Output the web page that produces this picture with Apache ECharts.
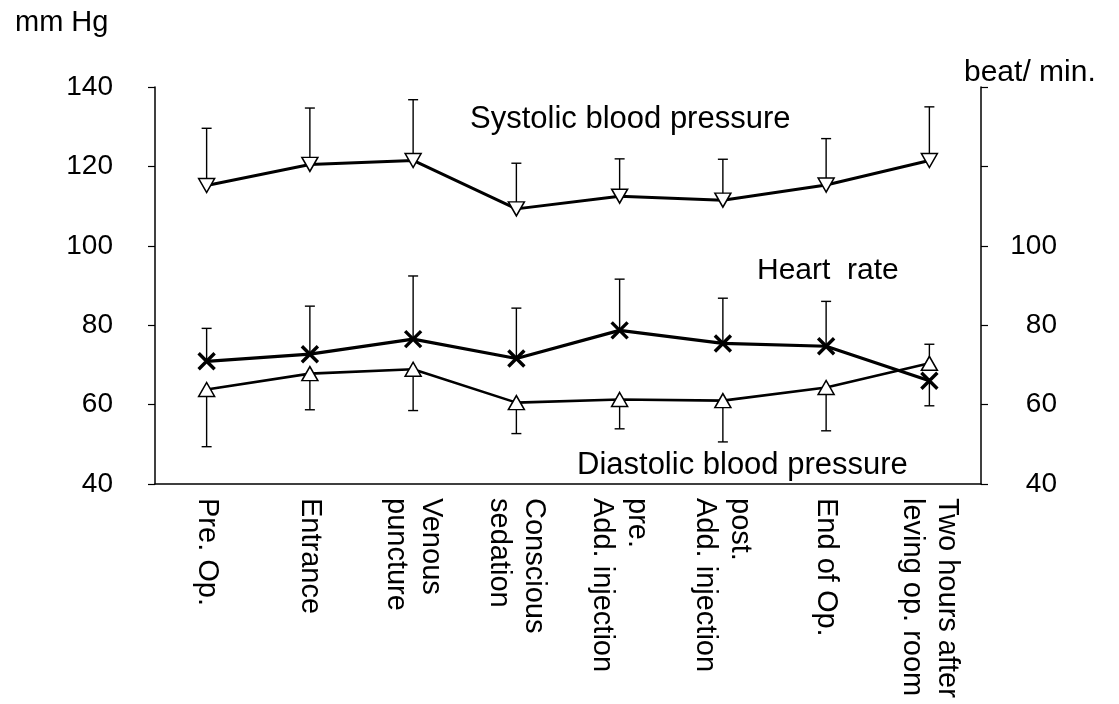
<!DOCTYPE html>
<html>
<head>
<meta charset="utf-8">
<script src="https://cdn.jsdelivr.net/npm/echarts@6/dist/echarts.min.js"></script>
<style>
html,body{margin:0;padding:0;background:#fff;}
#chart{width:1119px;height:704px;}
</style>
</head>
<body>
<div id="chart"></div>
<script>
var categories = ["Pre. Op.", "Entrance", "Venous\npuncture", "Conscious\nsedation", "pre.\nAdd. injection", "post.\nAdd. injection", "End of Op.", "Two hours after\nleving op. room"];
var systolic = [115.2, 120.5, 121.5, 109.3, 112.5, 111.5, 115.3, 121.5];
var systolicErrEnd = [129.6, 134.7, 136.8, 120.8, 121.9, 121.8, 127.0, 135.0];
var heartRate = [70.9, 72.7, 76.5, 71.6, 78.7, 75.4, 74.7, 66.0];
var heartRateErrEnd = [79.2, 84.8, 92.4, 84.3, 91.6, 86.8, 86.0, 59.7];
var diastolic = [63.8, 67.8, 68.9, 60.5, 61.3, 61.0, 64.3, 70.4];
var diastolicErrEnd = [49.4, 58.7, 58.5, 52.7, 53.9, 50.6, 53.4, 75.2];
var leftTicks = [40, 60, 80, 100, 120, 140];
var rightTickMaxLabel = 100;

var FONT = '"Liberation Sans", Arial, Helvetica, sans-serif';
var chart = echarts.init(document.getElementById('chart'));

function errSeries(name, mean, ends) {
  return {
    name: name + ' SD',
    type: 'custom',
    z: 1,
    encode: {x: 0, y: [1, 2]},
    data: categories.map(function (c, i) { return [i, mean[i], ends[i]]; }),
    renderItem: function (params, api) {
      var p = api.coord([api.value(0), api.value(1)]);
      var e = api.coord([api.value(0), api.value(2)]);
      var st = {stroke: '#000', lineWidth: 1.4};
      return {
        type: 'group',
        children: [
          {type: 'line', shape: {x1: p[0], y1: p[1], x2: e[0], y2: e[1]}, style: st},
          {type: 'line', shape: {x1: e[0] - 5, y1: e[1], x2: e[0] + 5, y2: e[1]}, style: st}
        ]
      };
    }
  };
}

var option = {
  backgroundColor: '#fff',
  animation: false,
  grid: {left: 155, right: 138, top: 87, bottom: 220, containLabel: false},
  xAxis: {
    type: 'category',
    data: categories,
    boundaryGap: true,
    axisLine: {lineStyle: {color: '#000', width: 1.5}},
    axisTick: {alignWithLabel: true, length: 6, lineStyle: {color: '#000', width: 1.2}},
    axisLabel: {
      rotate: -90, margin: 14, interval: 0,
      fontSize: 29, lineHeight: 35, color: '#000', fontFamily: FONT
    },
    splitLine: {show: false}
  },
  yAxis: [
    {
      type: 'value', min: 40, max: 140, interval: 20, position: 'left',
      axisLine: {show: true, lineStyle: {color: '#000', width: 1.5}},
      axisTick: {show: true, length: 7, lineStyle: {color: '#000', width: 1.2}},
      axisLabel: {fontSize: 28, color: '#000', margin: 42, fontFamily: FONT},
      splitLine: {show: false}
    },
    {
      type: 'value', min: 40, max: 140, interval: 20, position: 'right',
      axisLine: {show: true, lineStyle: {color: '#000', width: 1.5}},
      axisTick: {show: true, length: 7, lineStyle: {color: '#000', width: 1.2}},
      axisLabel: {
        fontSize: 28, color: '#000', margin: 76, align: 'right', fontFamily: FONT,
        formatter: function (v) { return v <= rightTickMaxLabel ? String(v) : ''; }
      },
      splitLine: {show: false}
    }
  ],
  series: [
    errSeries('Systolic', systolic, systolicErrEnd),
    errSeries('Heart rate', heartRate, heartRateErrEnd),
    errSeries('Diastolic', diastolic, diastolicErrEnd),
    {
      name: 'Diastolic blood pressure', type: 'line', z: 3, data: diastolic,
      symbol: 'triangle', symbolSize: [16, 14],
      lineStyle: {color: '#000', width: 2.6},
      itemStyle: {color: '#fff', borderColor: '#000', borderWidth: 1.5}
    },
    {
      name: 'Heart rate', type: 'line', z: 4, data: heartRate,
      symbol: 'path://M0,0L10,10M10,0L0,10', symbolSize: 16,
      lineStyle: {color: '#000', width: 3.2},
      itemStyle: {color: 'none', borderColor: '#000', borderWidth: 3.4}
    },
    {
      name: 'Systolic blood pressure', type: 'line', z: 3, data: systolic,
      symbol: 'triangle', symbolRotate: 180, symbolSize: [16, 14],
      lineStyle: {color: '#000', width: 3},
      itemStyle: {color: '#fff', borderColor: '#000', borderWidth: 1.5}
    }
  ],
  graphic: [
    {type: 'text', left: 15, top: 8, style: {text: 'mm Hg', font: '29px ' + FONT, fill: '#000'}},
    {type: 'text', left: 964, top: 58, style: {text: 'beat/ min.', font: '30px ' + FONT, fill: '#000'}},
    {type: 'text', left: 470, top: 104, style: {text: 'Systolic blood pressure', font: '31px ' + FONT, fill: '#000'}},
    {type: 'text', left: 757, top: 256, style: {text: 'Heart  rate', font: '30px ' + FONT, fill: '#000'}},
    {type: 'text', left: 577, top: 450, style: {text: 'Diastolic blood pressure', font: '31px ' + FONT, fill: '#000'}}
  ]
};
chart.setOption(option);
</script>
</body>
</html>
